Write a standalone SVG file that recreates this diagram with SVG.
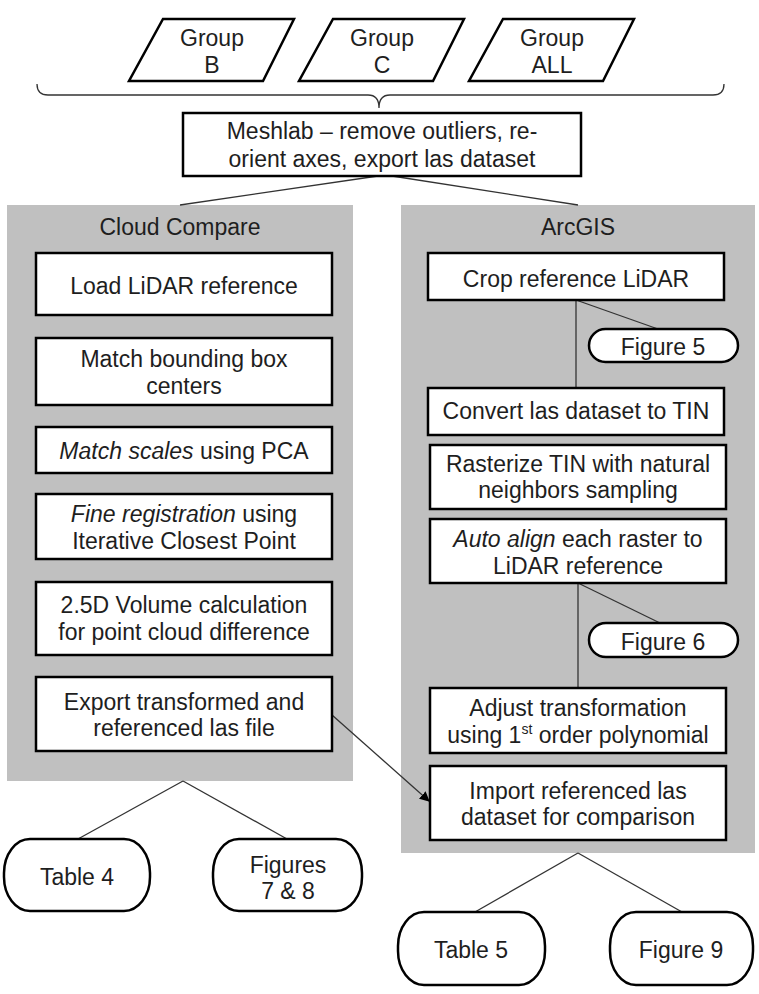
<svg xmlns="http://www.w3.org/2000/svg" width="759" height="994" viewBox="0 0 759 994">
<style>
.t{font-family:"Liberation Sans",Arial,sans-serif;font-size:23px;fill:#1e1e1e;text-anchor:middle}
.box{fill:#fff;stroke:#000;stroke-width:2.5}
.panel{fill:#c0c0c0;stroke:none}
.ln{stroke:#333;stroke-width:1.3;fill:none}
.i{font-style:italic}
</style>
<defs>
<marker id="ah" markerWidth="10" markerHeight="10" refX="9" refY="5" orient="auto" markerUnits="userSpaceOnUse">
<path d="M0,0 L10,5 L0,10 z" fill="#000"/>
</marker>
</defs>
<rect width="759" height="994" fill="#fff"/>

<g id="panel-cc"><rect class="panel" x="7" y="205" width="346" height="576"/><text class="t" x="180" y="235">Cloud Compare</text></g>
<g id="panel-arcgis"><rect class="panel" x="401" y="205" width="354" height="648"/><text class="t" x="578" y="235">ArcGIS</text></g>

<g id="connectors">
<path class="ln" d="M37,84 Q37,95 48,95 L368,95 Q379,95 379,108 Q379,95 390,95 L713,95 Q724,95 724,84"/>
<line class="ln" x1="378" y1="176" x2="180" y2="205"/>
<line class="ln" x1="392" y1="176" x2="578" y2="205"/>
<line class="ln" x1="183" y1="781" x2="78" y2="839"/>
<line class="ln" x1="183" y1="781" x2="287" y2="839"/>
<line class="ln" x1="576" y1="300" x2="576" y2="388"/>
<line class="ln" x1="576" y1="300" x2="658" y2="329"/>
<line class="ln" x1="578" y1="583" x2="578" y2="688"/>
<line class="ln" x1="578" y1="583" x2="660" y2="623"/>
<line class="ln" x1="578" y1="853" x2="475" y2="912"/>
<line class="ln" x1="578" y1="853" x2="682" y2="912"/>
<line class="ln" x1="332" y1="715" x2="429" y2="801" marker-end="url(#ah)"/>
</g>

<g id="group-b"><polygon class="box" points="163,19 294,19 263,81 129,81"/><text class="t" x="212" y="46">Group</text><text class="t" x="212" y="73">B</text></g>
<g id="group-c"><polygon class="box" points="333,19 464,19 433,81 299,81"/><text class="t" x="382" y="46">Group</text><text class="t" x="382" y="73">C</text></g>
<g id="group-all"><polygon class="box" points="503,19 634,19 603,81 469,81"/><text class="t" x="552" y="46">Group</text><text class="t" x="552" y="73">ALL</text></g>

<g id="meshlab"><rect class="box" x="183" y="113" width="398" height="63"/><text class="t" x="382" y="139">Meshlab – remove outliers, re-</text><text class="t" x="382" y="167">orient axes, export las dataset</text></g>

<g id="load-lidar"><rect class="box" x="36" y="253" width="296" height="62"/><text class="t" x="184" y="294">Load LiDAR reference</text></g>
<g id="match-bbox"><rect class="box" x="36" y="338" width="296" height="67"/><text class="t" x="184" y="367">Match bounding box</text><text class="t" x="184" y="394">centers</text></g>
<g id="match-scales"><rect class="box" x="36" y="427" width="296" height="46"/><text class="t" x="184" y="459"><tspan class="i">Match scales</tspan> using PCA</text></g>
<g id="fine-reg"><rect class="box" x="36" y="494" width="296" height="65"/><text class="t" x="184" y="522"><tspan class="i">Fine registration</tspan> using</text><text class="t" x="184" y="549">Iterative Closest Point</text></g>
<g id="volume"><rect class="box" x="36" y="582" width="296" height="73"/><text class="t" x="184" y="613">2.5D Volume calculation</text><text class="t" x="184" y="640">for point cloud difference</text></g>
<g id="export"><rect class="box" x="36" y="677" width="296" height="74"/><text class="t" x="184" y="710">Export transformed and</text><text class="t" x="184" y="736">referenced las file</text></g>

<g id="table4"><rect class="box" x="4" y="839" width="146" height="72" rx="26" ry="34"/><text class="t" x="77" y="885">Table 4</text></g>
<g id="figures78"><rect class="box" x="213" y="839" width="149" height="72" rx="26" ry="34"/><text class="t" x="288" y="873">Figures</text><text class="t" x="288" y="899">7 &amp; 8</text></g>

<g id="crop"><rect class="box" x="428" y="253" width="296" height="47"/><text class="t" x="576" y="287">Crop reference LiDAR</text></g>
<g id="figure5"><rect class="box" x="589" y="329" width="149" height="33" rx="16.5" ry="16.5"/><text class="t" x="663" y="355">Figure 5</text></g>
<g id="convert"><rect class="box" x="428" y="388" width="296" height="47"/><text class="t" x="576" y="419">Convert las dataset to TIN</text></g>
<g id="rasterize"><rect class="box" x="430" y="445" width="296" height="64"/><text class="t" x="578" y="472">Rasterize TIN with natural</text><text class="t" x="578" y="498">neighbors sampling</text></g>
<g id="auto-align"><rect class="box" x="430" y="519" width="296" height="64"/><text class="t" x="578" y="547"><tspan class="i">Auto align</tspan> each raster to</text><text class="t" x="578" y="574">LiDAR reference</text></g>
<g id="figure6"><rect class="box" x="589" y="623" width="149" height="34" rx="17" ry="17"/><text class="t" x="663" y="650">Figure 6</text></g>
<g id="adjust"><rect class="box" x="430" y="688" width="296" height="65"/><text class="t" x="578" y="716">Adjust transformation</text><text class="t" x="578" y="743">using 1<tspan font-size="14" dy="-9">st</tspan><tspan dy="9"> order polynomial</tspan></text></g>
<g id="import"><rect class="box" x="430" y="766" width="296" height="74"/><text class="t" x="578" y="799">Import referenced las</text><text class="t" x="578" y="825">dataset for comparison</text></g>

<g id="table5"><rect class="box" x="398" y="912" width="147" height="73" rx="26" ry="34"/><text class="t" x="471" y="958">Table 5</text></g>
<g id="figure9"><rect class="box" x="610" y="912" width="143" height="73" rx="26" ry="34"/><text class="t" x="681" y="958">Figure 9</text></g>
</svg>
